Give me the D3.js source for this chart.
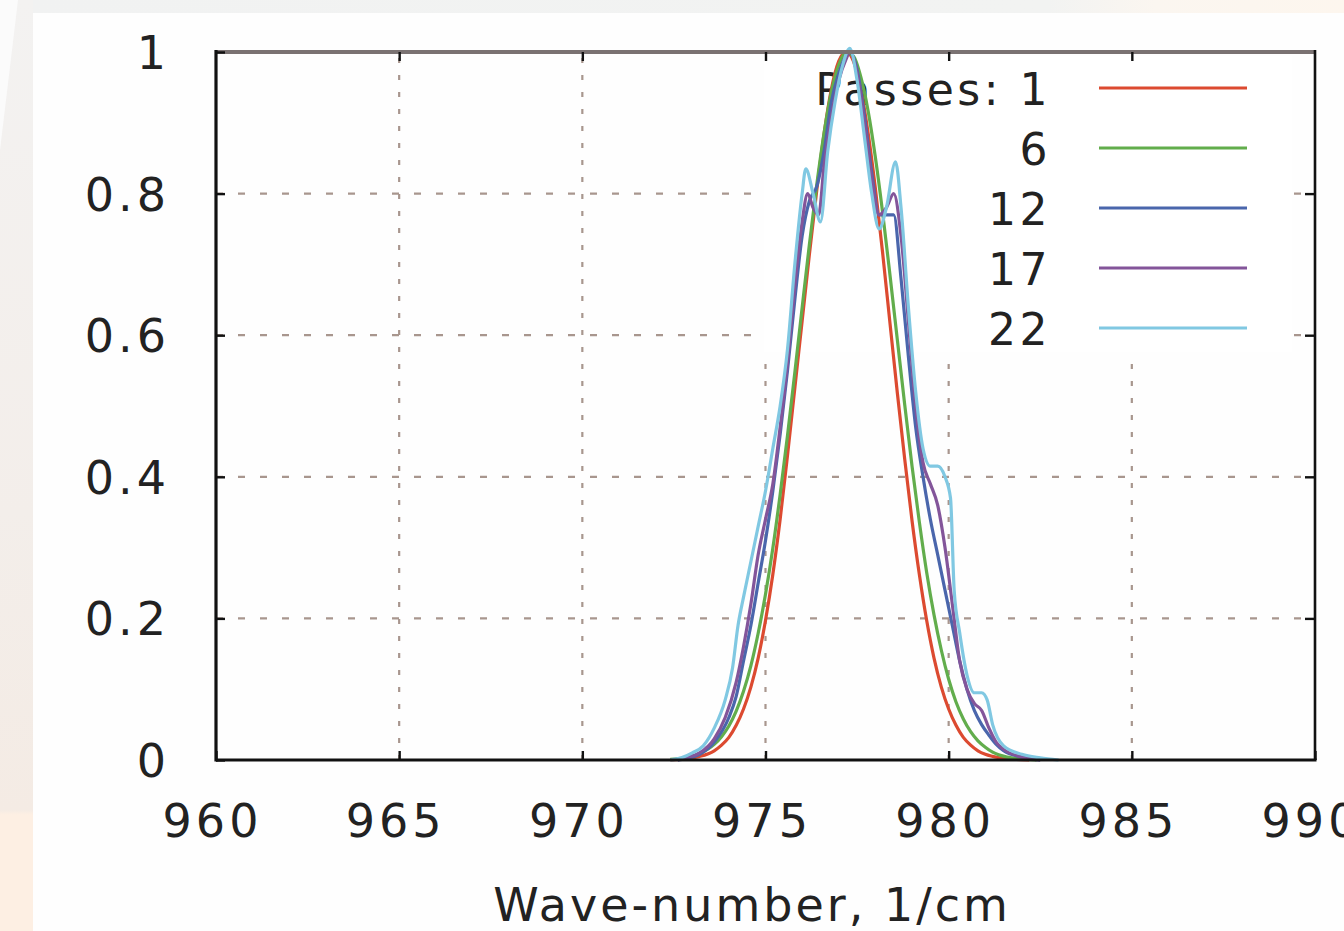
<!DOCTYPE html>
<html>
<head>
<meta charset="utf-8">
<script src="https://cdn.jsdelivr.net/npm/d3@7/dist/d3.min.js"></script>
<style>
  html, body { margin: 0; padding: 0; background: #ffffff; }
  svg { display: block; }
  text { font-family: "DejaVu Sans", sans-serif; fill: #222; }
</style>
</head>
<body>
<svg id="chart" width="1344" height="931"></svg>
<script>
// ---------- data ----------
const xTicks = [960, 965, 970, 975, 980, 985, 990];
const xTickLabels = ["960", "965", "970", "975", "980", "985", "990"];
const yTicks = [0, 0.2, 0.4, 0.6, 0.8, 1];
const yTickLabels = ["0", "0.2", "0.4", "0.6", "0.8", "1"];
const xTitle = "Wave-number, 1/cm";
const legendTitle = "Passes: ";
const seriesNames = ["1", "6", "12", "17", "22"];

const pass1 = [[972.4,0],[972.8,0.002],[973.2,0.005],[973.6,0.013],[973.8,0.021],[974.0,0.032],[974.2,0.049],[974.4,0.072],[974.6,0.103],[974.8,0.144],[975.0,0.197],[975.2,0.262],[975.4,0.34],[975.6,0.43],[975.8,0.525],[976.0,0.62],[976.2,0.715],[976.4,0.805],[976.6,0.885],[976.8,0.948],[977.0,0.987],[977.2,1.0],[977.4,0.987],[977.6,0.948],[977.8,0.886],[978.0,0.807],[978.2,0.715],[978.4,0.616],[978.6,0.518],[978.8,0.425],[979.0,0.338],[979.2,0.262],[979.4,0.197],[979.6,0.144],[979.8,0.103],[980.0,0.072],[980.2,0.049],[980.4,0.032],[980.6,0.021],[980.8,0.013],[981.0,0.008],[981.4,0.003],[981.8,0.001],[982.2,0]];

const pass6 = [[972.4,0.001],[972.8,0.003],[973.2,0.009],[973.6,0.022],[973.8,0.033],[974.0,0.048],[974.2,0.069],[974.4,0.097],[974.6,0.133],[974.8,0.179],[975.0,0.234],[975.2,0.299],[975.4,0.375],[975.6,0.458],[975.8,0.547],[976.0,0.639],[976.2,0.729],[976.4,0.813],[976.6,0.886],[976.8,0.944],[977.0,0.982],[977.2,0.999],[977.4,0.994],[977.6,0.965],[977.8,0.917],[978.0,0.851],[978.2,0.772],[978.4,0.684],[978.6,0.593],[978.8,0.502],[979.0,0.415],[979.2,0.336],[979.4,0.265],[979.6,0.205],[979.8,0.155],[980.0,0.114],[980.2,0.082],[980.4,0.058],[980.6,0.040],[980.8,0.027],[981.0,0.018],[981.2,0.011],[981.6,0.004],[982.0,0.0015],[982.4,0]];

const pass12 = [[972.6,0],[972.8,0.002],[973.2,0.008],[973.6,0.025],[974.0,0.06],[974.2,0.09],[974.4,0.14],[974.6,0.19],[974.8,0.25],[975.0,0.31],[975.2,0.38],[975.4,0.46],[975.6,0.55],[975.8,0.65],[976.0,0.74],[976.2,0.79],[976.4,0.81],[976.6,0.86],[976.8,0.93],[977.0,0.97],[977.2,0.995],[977.3,1.0],[977.5,0.975],[977.7,0.91],[977.9,0.83],[978.1,0.77],[978.3,0.77],[978.5,0.77],[978.7,0.68],[978.9,0.57],[979.1,0.47],[979.3,0.40],[979.5,0.34],[979.7,0.29],[979.9,0.24],[980.1,0.19],[980.3,0.14],[980.5,0.10],[980.7,0.07],[980.9,0.05],[981.1,0.035],[981.3,0.022],[981.5,0.013],[982.0,0.004],[982.5,0]];

const pass17 = [[972.6,0],[972.8,0.003],[973.2,0.01],[973.6,0.03],[973.9,0.06],[974.2,0.11],[974.4,0.16],[974.6,0.22],[974.8,0.29],[975.0,0.34],[975.2,0.39],[975.4,0.47],[975.6,0.56],[975.8,0.67],[976.0,0.76],[976.15,0.80],[976.3,0.78],[976.45,0.77],[976.6,0.84],[976.8,0.91],[977.0,0.96],[977.2,0.99],[977.3,1.0],[977.5,0.97],[977.7,0.90],[977.9,0.82],[978.1,0.77],[978.3,0.78],[978.5,0.80],[978.7,0.74],[978.9,0.62],[979.1,0.50],[979.3,0.42],[979.5,0.39],[979.7,0.36],[979.9,0.30],[980.1,0.22],[980.3,0.14],[980.5,0.10],[980.7,0.08],[980.9,0.07],[981.1,0.045],[981.3,0.025],[981.5,0.015],[982.0,0.004],[982.5,0]];

const pass22 = [[972.4,0],[972.7,0.003],[973.0,0.01],[973.3,0.02],[973.6,0.045],[973.9,0.085],[974.1,0.13],[974.25,0.19],[974.4,0.23],[974.6,0.28],[974.8,0.33],[975.0,0.38],[975.2,0.44],[975.4,0.50],[975.6,0.58],[975.8,0.70],[976.0,0.80],[976.1,0.835],[976.3,0.80],[976.5,0.76],[976.7,0.86],[976.9,0.93],[977.1,0.98],[977.3,1.005],[977.5,0.96],[977.7,0.88],[977.9,0.80],[978.1,0.75],[978.3,0.78],[978.55,0.845],[978.7,0.78],[978.9,0.64],[979.1,0.52],[979.3,0.44],[979.5,0.415],[979.7,0.415],[979.9,0.40],[980.05,0.37],[980.15,0.24],[980.3,0.18],[980.5,0.12],[980.7,0.095],[980.9,0.095],[981.05,0.085],[981.2,0.05],[981.5,0.02],[982.0,0.008],[982.5,0.003],[983.0,0]];

const seriesData = [pass1, pass6, pass12, pass17, pass22];

// ---------- styles ----------
const seriesColors = ["#dc4a30", "#62ad4c", "#4a66ac", "#83559a", "#80c8e2"];

// ---------- layout ----------
const svg = d3.select("#chart");
const W = 1344, H = 931;
const plot = { left: 216, right: 1315, top: 52, bottom: 760 };

const x = d3.scaleLinear().domain([960, 990]).range([plot.left, plot.right]);
const y = d3.scaleLinear().domain([0, 1]).range([plot.bottom, plot.top]);

// ---------- background ----------
const defs = svg.append("defs");
const gLeft = defs.append("linearGradient").attr("id", "gLeft").attr("x1", 0).attr("y1", 0).attr("x2", 0).attr("y2", 1);
gLeft.append("stop").attr("offset", "0").attr("stop-color", "#f3f2f1");
gLeft.append("stop").attr("offset", "0.55").attr("stop-color", "#f3eeea");
gLeft.append("stop").attr("offset", "0.87").attr("stop-color", "#f4ebe4");
gLeft.append("stop").attr("offset", "0.875").attr("stop-color", "#fdefe3");
gLeft.append("stop").attr("offset", "1").attr("stop-color", "#fdefe3");
const gTop = defs.append("linearGradient").attr("id", "gTop").attr("x1", 0).attr("y1", 0).attr("x2", 1).attr("y2", 0);
gTop.append("stop").attr("offset", "0").attr("stop-color", "#f1f2f2");
gTop.append("stop").attr("offset", "0.78").attr("stop-color", "#f2f3f2");
gTop.append("stop").attr("offset", "0.86").attr("stop-color", "#fbf6f0");
gTop.append("stop").attr("offset", "1").attr("stop-color", "#fdf6ee");

svg.append("rect").attr("x", 0).attr("y", 0).attr("width", W).attr("height", H).attr("fill", "#fefefe");
svg.append("rect").attr("x", 0).attr("y", 0).attr("width", W).attr("height", 13).attr("fill", "url(#gTop)");
svg.append("rect").attr("x", 0).attr("y", 0).attr("width", 33).attr("height", H).attr("fill", "url(#gLeft)");
svg.append("path").attr("d", "M0,0 L18,0 L0,150 Z").attr("fill", "#fbfbfb");

// ---------- grid ----------
const grid = svg.append("g").attr("stroke", "#a8968e").attr("stroke-width", 2.2).attr("fill", "none");
grid.selectAll("line.v").data(xTicks.filter(d => d > 960 && d < 990)).enter().append("line")
  .attr("x1", d => x(d)).attr("x2", d => x(d))
  .attr("y1", plot.bottom).attr("y2", plot.top)
  .attr("stroke-dasharray", "5,12");
grid.selectAll("line.h").data(yTicks.filter(d => d > 0 && d < 1)).enter().append("line")
  .attr("x1", plot.left).attr("x2", plot.right)
  .attr("y1", d => y(d)).attr("y2", d => y(d))
  .attr("stroke-dasharray", "7,15");

// ---------- legend box (opaque) ----------
svg.append("rect").attr("x", 764).attr("y", 56).attr("width", 528).attr("height", 296).attr("fill", "#ffffff");

const legendRowY = d3.scaleLinear().domain([0, 1]).range([88, 148]);
const legend = svg.append("g");
seriesNames.forEach((name, i) => {
  legend.append("text")
    .attr("x", 1051).attr("y", legendRowY(i) + 17)
    .attr("text-anchor", "end")
    .style("font-size", "44px").style("letter-spacing", "3.5px")
    .text(i === 0 ? legendTitle + name : name);
});

// ---------- curves ----------
const line = d3.line().x(d => x(d[0])).y(d => y(d[1])).curve(d3.curveMonotoneX);
seriesData.forEach((data, i) => {
  svg.append("path").datum(data)
    .attr("d", line)
    .attr("fill", "none")
    .attr("stroke", seriesColors[i])
    .attr("stroke-width", 3.2)
    .attr("stroke-linejoin", "round");
});

// legend samples
seriesNames.forEach((name, i) => {
  legend.append("line")
    .attr("x1", 1099).attr("x2", 1247)
    .attr("y1", legendRowY(i)).attr("y2", legendRowY(i))
    .attr("stroke", seriesColors[i]).attr("stroke-width", 3.2);
});

// ---------- frame ----------
svg.append("line").attr("x1", plot.left).attr("x2", plot.right).attr("y1", plot.top).attr("y2", plot.top)
  .attr("stroke", "#7a7272").attr("stroke-width", 4);
svg.append("line").attr("x1", plot.left).attr("x2", plot.left).attr("y1", plot.top - 2).attr("y2", plot.bottom + 1.5)
  .attr("stroke", "#111").attr("stroke-width", 3.2);
svg.append("line").attr("x1", plot.left).attr("x2", plot.right + 1.5).attr("y1", plot.bottom).attr("y2", plot.bottom)
  .attr("stroke", "#111").attr("stroke-width", 3.2);
svg.append("line").attr("x1", plot.right).attr("x2", plot.right).attr("y1", plot.top - 2).attr("y2", plot.bottom)
  .attr("stroke", "#111").attr("stroke-width", 2.6);

// ---------- axes ----------
const fontPx = 46;
const axB = svg.append("g").attr("transform", `translate(0,${plot.bottom})`)
  .call(d3.axisBottom(x).tickValues(xTicks).tickFormat((d, i) => xTickLabels[i]).tickSize(-9).tickPadding(44));
const axT = svg.append("g").attr("transform", `translate(0,${plot.top})`)
  .call(d3.axisTop(x).tickValues(xTicks.slice(1, -1)).tickFormat("").tickSize(-9));
const axL = svg.append("g").attr("transform", `translate(${plot.left},0)`)
  .call(d3.axisLeft(y).tickValues(yTicks).tickFormat((d, i) => yTickLabels[i]).tickSize(-9).tickPadding(46));
const axR = svg.append("g").attr("transform", `translate(${plot.right},0)`)
  .call(d3.axisRight(y).tickValues(yTicks.slice(1, -1)).tickFormat("").tickSize(-10));

[axB, axT, axL, axR].forEach(g => {
  g.select(".domain").remove();
  g.selectAll(".tick line").attr("stroke", "#111").attr("stroke-width", 2.4);
  g.selectAll("text").attr("fill", "#222")
    .style("font-family", '"DejaVu Sans", sans-serif')
    .style("font-size", fontPx + "px");
});
axB.selectAll(".tick text").style("letter-spacing", "4px").attr("dx", "-4px");
axL.selectAll(".tick text").style("letter-spacing", "4px").attr("dy", "0.36em");

// ---------- axis title ----------
svg.append("text")
  .attr("x", 752).attr("y", 921)
  .attr("text-anchor", "middle")
  .style("font-size", "46px").style("letter-spacing", "3px")
  .text(xTitle);
</script>
</body>
</html>
